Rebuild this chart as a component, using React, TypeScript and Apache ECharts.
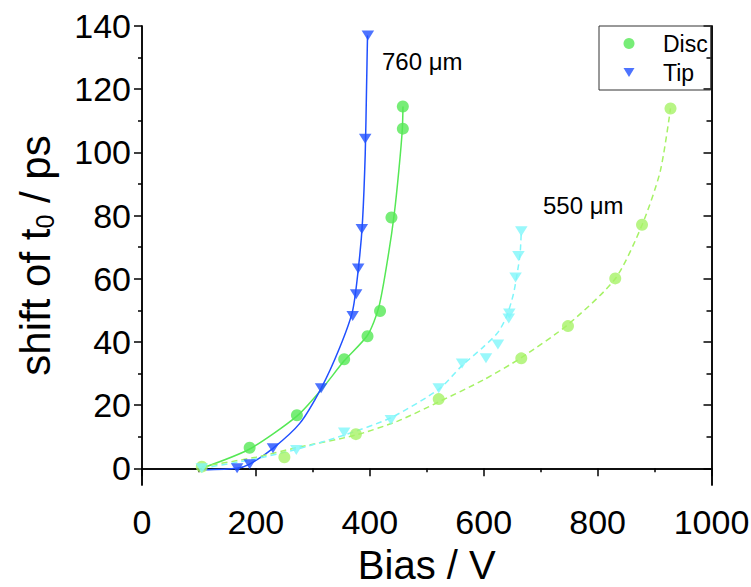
import React, { useEffect, useRef } from "react";
import * as echarts from "echarts";

// ---- data ----
// 760 µm, Disc (points)
const disc760X = [189, 272, 355, 396, 418, 438, 458, 458];
const disc760Y = [6.5, 16.8, 34.5, 41.8, 49.8, 79.4, 107.5, 114.5];
// 760 µm, Tip (points)
const tip760X = [167, 189, 230, 314.5, 370, 376, 379.6, 386, 392, 396.6];
const tip760Y = [0, 1.3, 6.3, 25.3, 48.2, 55.1, 63.2, 75.7, 104.3, 137];
// 550 µm, Disc (points)
const disc550X = [105, 250, 375.6, 521, 666, 748, 831, 878, 928];
const disc550Y = [0.5, 3.5, 10.8, 21.9, 34.8, 45, 60.1, 77.1, 113.9];
// 550 µm, Tip (points)
const tip550X = [105, 271, 355, 437, 521, 562, 604, 625, 644, 645, 656, 661, 666];
const tip550Y = [0, 5.8, 11.3, 15.3, 25.3, 33.2, 34.8, 39.2, 47.4, 49, 60.4, 67.2, 75];

// fit curves
const fitDisc760X = [105, 189, 272, 314.5, 355, 396, 416, 433, 443, 451, 457, 458.3];
const fitDisc760Y = [0, 6.1, 16.5, 24.8, 34, 42.1, 51.1, 68, 80.6, 94.3, 107, 114.5];
const fitTip760X = [105, 167, 189, 230, 277, 314.5, 346.5, 370, 381.5, 387.3, 392, 394.3, 396];
const fitTip760Y = [-0.5, 0, 1.3, 6.3, 14.2, 25.3, 37.9, 50, 65.9, 78.5, 99.6, 120.6, 137];
const fitDisc550X = [105, 200, 271, 375, 450, 521, 600, 666, 748, 831, 878, 910, 928];
const fitDisc550Y = [0.5, 3.5, 6.5, 10.5, 15, 21, 28, 35, 45.5, 60, 77, 94, 113.9];
const fitTip550X = [105, 200, 271, 355, 437, 521, 562, 600, 625, 640, 652, 660, 664, 666];
const fitTip550Y = [0, 3, 6, 10.5, 16, 25, 32.5, 38.5, 43, 48, 55, 63, 68, 75];

const xTickLabels = [0, 200, 400, 600, 800, 1000];
const yMajorTicks = [0, 20, 40, 60, 80, 100, 120, 140];
const yMinorTicks = [10, 30, 50, 70, 90, 110, 130];

const FONT = '"Liberation Sans", Arial, Helvetica, sans-serif';
const C_DISC760 = "#55e855";
const C_TIP760 = "#2050ff";
const C_DISC550 = "#a6f266";
const C_TIP550 = "#80f6fa";
const TRI = "path://M0,0L12,0L6,10Z";

const zip = (xs: number[], ys: number[]) => xs.map((x, i) => [x, ys[i]]);

export default function App() {
  const ref = useRef<HTMLDivElement>(null);
  useEffect(() => {
    if (!ref.current) return;
    const chart = echarts.init(ref.current, null, { renderer: "svg" });
    const yBase = {
      type: "value",
      min: -5.3,
      max: 140,
      splitLine: { show: false },
      axisLine: { show: true, lineStyle: { color: "#000", width: 1.5 } },
    };
    const lineSeries = (name: string, xs: number[], ys: number[], color: string, dashed: boolean) => ({
      name,
      type: "line",
      data: zip(xs, ys),
      smooth: 0.25,
      showSymbol: false,
      symbol: "none",
      silent: true,
      lineStyle: { color, width: 1.5, type: dashed ? [6, 4] : "solid" },
      z: 2,
    });
    chart.setOption({
      animation: false,
      backgroundColor: "#fff",
      grid: { left: 142, right: 39.5, top: 26, bottom: 102, containLabel: false, outerBoundsMode: "none" },
      legend: {
        orient: "vertical",
        left: 599,
        top: 26,
        data: [
          { name: "Disc", icon: "circle" },
          { name: "Tip", icon: TRI },
        ],
        itemWidth: 11,
        itemHeight: 11,
        itemGap: 6,
        padding: [6, 3, 6, 24.5],
        borderColor: "#333",
        borderWidth: 1,
        textStyle: { fontSize: 23, fontFamily: FONT, color: "#000", padding: [0, 0, 0, 23.5], lineHeight: 22 },
      },
      xAxis: [
        {
          type: "value",
          position: "bottom",
          min: 0,
          max: 1000,
          interval: 200,
          splitLine: { show: false },
          axisLine: { show: true, lineStyle: { color: "#000", width: 1.5 } },
          axisTick: { show: true, inside: false, length: 8, lineStyle: { color: "#000", width: 1.5 } },
          minorTick: { show: true, splitNumber: 2, length: 4, lineStyle: { color: "#000", width: 1.5 } },
          axisLabel: {
            fontSize: 34,
            fontFamily: FONT,
            color: "#000",
            margin: 20,
            customValues: xTickLabels,
            formatter: (v: number) => String(v),
          },
          name: "Bias / V",
          nameLocation: "middle",
          nameGap: 60,
          nameTextStyle: { fontSize: 40, lineHeight: 40, fontFamily: FONT, color: "#000" },
        },
        {
          type: "value",
          position: "top",
          min: 0,
          max: 1000,
          interval: 200,
          splitLine: { show: false },
          axisLine: { show: true, lineStyle: { color: "#000", width: 1.5 } },
          axisTick: { show: false },
          axisLabel: { show: false },
        },
      ],
      yAxis: [
        {
          ...yBase,
          position: "left",
          axisTick: { show: true, inside: false, length: 8, customValues: yMajorTicks, lineStyle: { color: "#000", width: 1.5 } },
          axisLabel: {
            show: true,
            customValues: yMajorTicks,
            fontSize: 34,
            fontFamily: FONT,
            color: "#000",
            margin: 11,
            formatter: (v: number) => String(v),
          },
          name: "{a|shift of t}{sub|0}{a| / ps}",
          nameLocation: "middle",
          nameGap: 86,
          nameRotate: 90,
          nameTextStyle: {
            fontSize: 42,
            fontFamily: FONT,
            color: "#000",
            rich: {
              a: { fontSize: 42, lineHeight: 42, fontFamily: FONT, color: "#000", verticalAlign: "top" },
              sub: { fontSize: 25, lineHeight: 24, fontFamily: FONT, color: "#000", verticalAlign: "top", padding: [18, 0, 0, 0] },
            },
          },
        },
        {
          ...yBase,
          position: "left",
          axisTick: { show: true, inside: false, length: 4, customValues: yMinorTicks, lineStyle: { color: "#000", width: 1.5 } },
          axisLabel: { show: false },
        },
        {
          ...yBase,
          position: "right",
          axisTick: { show: true, inside: true, length: 8, customValues: yMajorTicks, lineStyle: { color: "#000", width: 1.5 } },
          axisLabel: { show: false },
        },
        {
          ...yBase,
          position: "right",
          axisTick: { show: true, inside: true, length: 5, customValues: yMinorTicks, lineStyle: { color: "#000", width: 1.5 } },
          axisLabel: { show: false },
        },
      ],
      graphic: [
        {
          type: "text",
          x: 382,
          y: 61,
          style: { text: "760 μm", fontSize: 24, fontFamily: FONT, fill: "#000", verticalAlign: "middle", align: "left" },
        },
        {
          type: "text",
          x: 543,
          y: 205,
          style: { text: "550 μm", fontSize: 24, fontFamily: FONT, fill: "#000", verticalAlign: "middle", align: "left" },
        },
      ],
      series: [
        lineSeries("fit Disc 760", fitDisc760X, fitDisc760Y, C_DISC760, false),
        lineSeries("fit Tip 760", fitTip760X, fitTip760Y, C_TIP760, false),
        lineSeries("fit Disc 550", fitDisc550X, fitDisc550Y, C_DISC550, true),
        lineSeries("fit Tip 550", fitTip550X, fitTip550Y, C_TIP550, true),
        {
          name: "Disc",
          type: "scatter",
          data: zip(disc760X, disc760Y),
          symbol: "circle",
          symbolSize: 12,
          itemStyle: { color: C_DISC760 },
          z: 3,
        },
        {
          name: "Tip",
          type: "scatter",
          data: zip(tip760X, tip760Y),
          symbol: TRI,
          symbolSize: [12.5, 10],
          itemStyle: { color: C_TIP760 },
          z: 3,
        },
        {
          name: "Disc 550",
          type: "scatter",
          data: zip(disc550X, disc550Y),
          symbol: "circle",
          symbolSize: 12,
          itemStyle: { color: C_DISC550 },
          z: 3,
        },
        {
          name: "Tip 550",
          type: "scatter",
          data: zip(tip550X, tip550Y),
          symbol: TRI,
          symbolSize: [12.5, 10],
          itemStyle: { color: C_TIP550 },
          z: 3,
        },
      ],
    });
    return () => chart.dispose();
  }, []);
  return (
    <div
      ref={ref}
      style={{ position: "absolute", left: 0, top: 0, width: 751, height: 587, background: "#fff" }}
    />
  );
}
